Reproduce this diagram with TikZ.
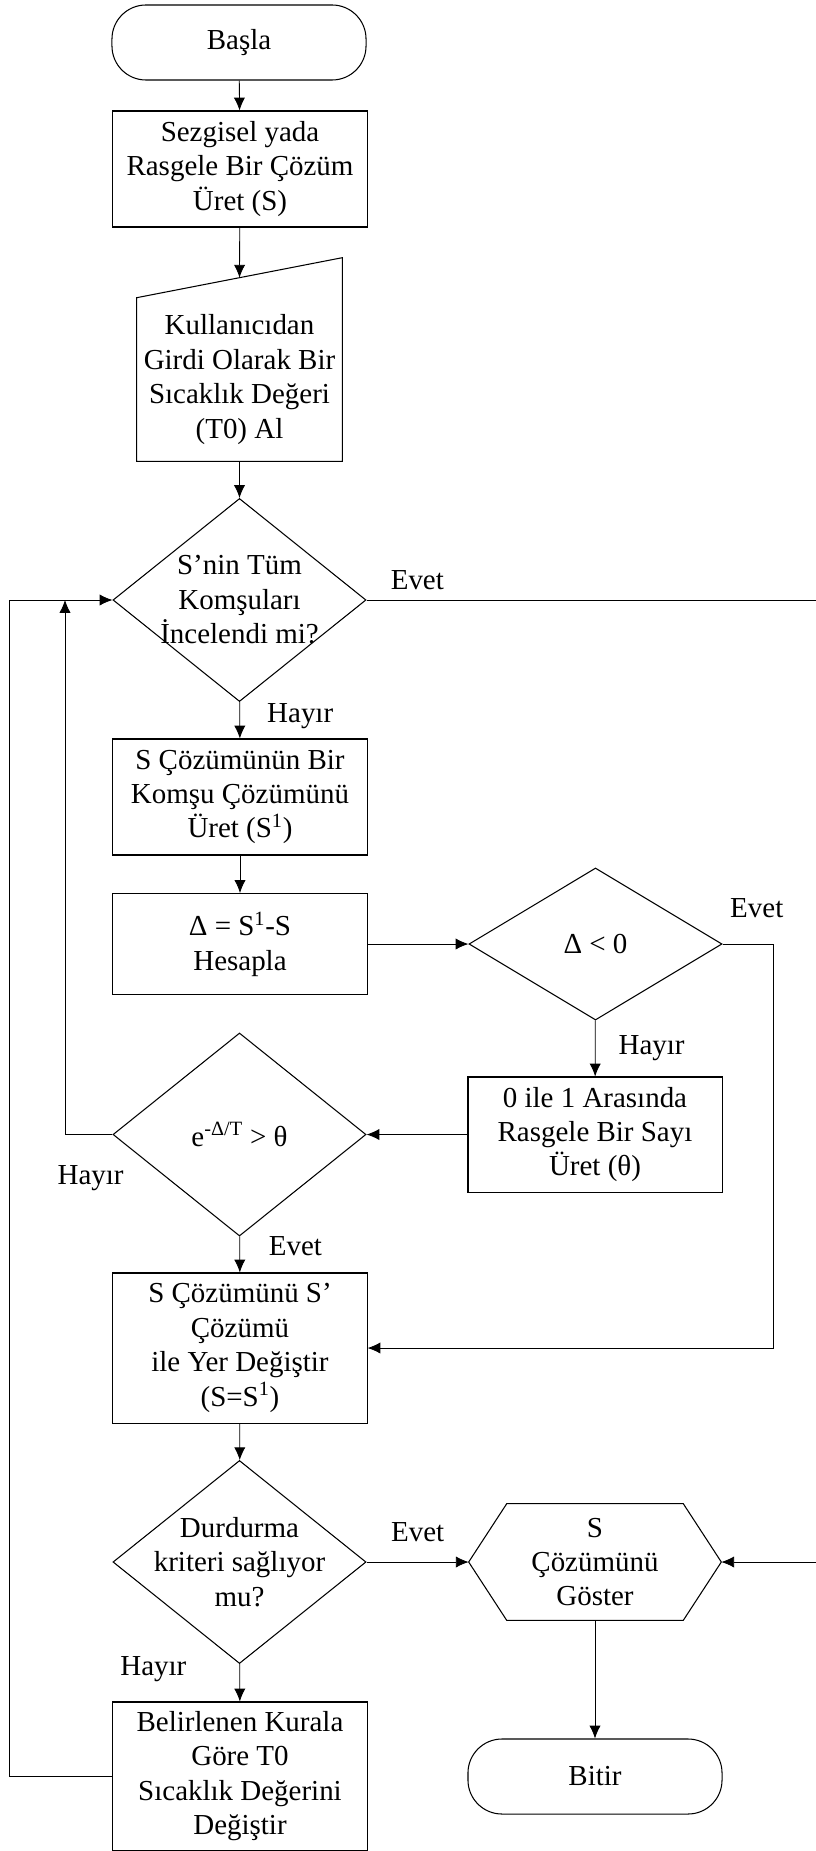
\documentclass[tikz,border=0pt]{standalone}
\usepackage{fontspec}
\setmainfont{Liberation Serif}
\usetikzlibrary{shapes.geometric}
\usetikzlibrary{arrows.meta}
\tikzset{every node/.style = {font=\fontsize{20.6}{24.5}\selectfont, align=center},
         base/.style = {draw, line width=0.75pt, inner sep=0pt},
         terminal/.style = {base, rectangle, rounded corners=0.85cm, minimum width=6.35cm, minimum height=1.875cm},
         process/.style = {base, rectangle, minimum width=6.35cm},
         decision/.style = {base, diamond, inner sep=-1cm, minimum width=6.325cm},
         blank/.style = {rectangle, inner sep=0pt},
         arr/.style = {line width=0.6pt, -{Latex[length=0.32cm, width=0.28cm]}}}

\begin{document}
\begin{tikzpicture}[x=0.025cm, y=-0.025cm]
      \useasboundingbox (0, 0) rectangle (815, 1851);

      \node [terminal] (start) at (239, 42.5) {Başla};
      \node [process, minimum height=2.9cm] (init) at (240, 169) {Sezgisel yada\\Rasgele Bir Çözüm\\Üret (S)};
      \node [blank, minimum width=5.125cm, minimum height=4.075cm] (input) at (239.5, 379.5) {Kullanıcıdan\\Girdi Olarak Bir\\Sıcaklık Değeri\\(T0) Al};
      \draw [line width=0.75pt] (input.south west) -- (input.south east) -- ([yshift=1cm]input.north east) -- (input.north west) -- cycle;
      \coordinate (inputtop) at ([yshift=0.5cm]input.north);

      \node [decision, minimum height=5.075cm] (d1) at (239.5, 600) {S’nin Tüm\\Komşuları\\İncelendi mi?};
      \node [process, minimum height=2.9cm] (nbr) at (240, 797) {S Çözümünün Bir\\Komşu Çözümünü\\Üret (S\textsuperscript{1})};
      \node [process, minimum height=2.525cm] (delta) at (240, 944) {Δ = S\textsuperscript{1}-S\\Hesapla};
      \node [decision, minimum height=3.8cm] (d2) at (595.5, 944) {Δ < 0};
      \node [process, minimum height=2.875cm] (rand) at (595, 1134.5) {0 ile 1 Arasında\\Rasgele Bir Sayı\\Üret (θ)};
      \node [decision, minimum height=5.075cm] (d3) at (239.5, 1134.5) {e\textsuperscript{-Δ/T} > θ};
      \node [process, minimum height=3.75cm] (swap) at (240, 1348) {S Çözümünü S’\\Çözümü\\ile Yer Değiştir\\(S=S\textsuperscript{1})};
      \node [decision, minimum height=5.075cm] (d4) at (239.5, 1562) {Durdurma\\kriteri sağlıyor\\mu?};
      \node [blank, minimum width=6.3cm, minimum height=2.9cm] (show) at (595, 1562) {S\\Çözümünü\\Göster};
      \draw [line width=0.75pt] (show.west) -- ([xshift=0.95cm]show.north west) -- ([xshift=-0.95cm]show.north east) -- (show.east) -- ([xshift=-0.95cm]show.south east) -- ([xshift=0.95cm]show.south west) -- cycle;
      \node [process, minimum height=3.7cm] (tstep) at (240, 1776) {Belirlenen Kurala\\Göre T0\\Sıcaklık Değerini\\Değiştir};
      \node [terminal] (end) at (595, 1776.5) {Bitir};

      \coordinate (loopin) at (65, 600);

      \draw [arr] (start) -- (init);
      \draw [arr] (init) -- (inputtop);
      \draw [arr] (input) -- (d1);
      \draw [arr] (d1) -- node [pos=0.38, xshift=1.51cm] (hayir1) {Hayır} (nbr);
      \draw [arr] (d1.east) -- node [pos=0.112, yshift=0.5cm] (evet1) {Evet} (820, 600) |- (show.east);
      \draw [arr] (nbr) -- (delta);
      \draw [arr] (delta) -- (d2);
      \draw [arr] (d2.east) -- node [pos=0.67, yshift=0.9cm] (evet2) {Evet} ++(1.275cm, 0) |- (swap.east);
      \draw [arr] (d2) -- node [pos=0.49, xshift=1.41cm] (hayir2) {Hayır} (rand);
      \draw [arr] (rand) -- (d3);
      \draw [arr] (d3.west) -| node [pos=0.23, yshift=-1.09cm] (hayir3) {Hayır} (loopin);
      \draw [arr] (d3) -- node [pos=0.27, xshift=1.39cm] (evet3) {Evet} (swap);
      \draw [arr] (swap) -- (d4);
      \draw [arr] (d4) -- node [pos=0.5, yshift=0.75cm] (evet4) {Evet} (show);
      \draw [arr] (d4) -- node [pos=0.13, xshift=-2.16cm] (hayir4) {Hayır} (tstep);
      \draw [arr] (tstep.west) -- ++(-2.575cm, 0) |- (d1.west);
      \draw [arr] (show) -- (end);
    \end{tikzpicture}
\end{document}
